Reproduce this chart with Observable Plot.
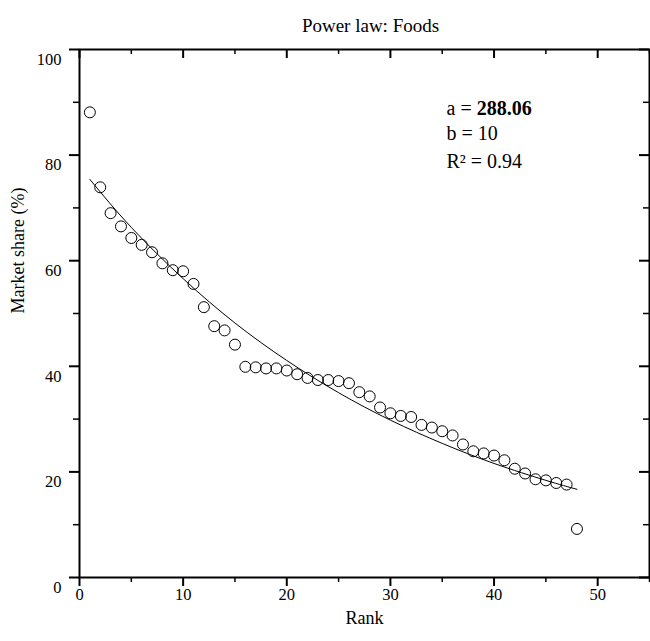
<!DOCTYPE html>
<html>
<head>
<meta charset="utf-8">
<script src="https://cdn.jsdelivr.net/npm/d3@7"></script>
<script src="https://cdn.jsdelivr.net/npm/@observablehq/plot@0.6"></script>
<style>
  html, body { margin: 0; padding: 0; background: #fff; }
  #chart svg { display: block; }
</style>
</head>
<body>
<div id="chart"></div>
<script>
// ---- data ----
const ranks = [1,2,3,4,5,6,7,8,9,10,11,12,13,14,15,16,17,18,19,20,21,22,23,24,
               25,26,27,28,29,30,31,32,33,34,35,36,37,38,39,40,41,42,43,44,45,46,47,48];
const shares = [88.1,73.9,69.0,66.5,64.3,63.0,61.6,59.5,58.2,58.0,55.6,51.2,47.6,46.8,44.1,39.9,
                39.8,39.6,39.6,39.2,38.5,37.8,37.4,37.4,37.2,36.8,35.1,34.3,32.2,31.1,30.6,30.4,
                28.9,28.4,27.7,26.9,25.2,23.9,23.5,23.1,22.2,20.6,19.7,18.6,18.4,17.9,17.6,9.2];

// fitted curve at a few ranks
const fitRanks  = [1, 5, 10, 15, 20, 25, 30, 35, 40, 45, 48];
const fitShares = [75.4, 66.3, 56.6, 48.2, 41.1, 35.0, 29.8, 25.4, 21.6, 18.4, 16.7];

// axis ticks
const xMajor = [0, 10, 20, 30, 40, 50];
const xMinor = [5, 15, 25, 35, 45, 55];
const yMajor = [0, 20, 40, 60, 80, 100];
const yMinor = [10, 30, 50, 70, 90];

// texts
const titleText = "Power law: Foods";
const xTitle = "Rank";
const yTitle = "Market share (%)";
const paramNames  = ["a", "b", "R²"];
const paramValues = ["288.06", "10", "0.94"];
const paramBold   = [true, false, false];

// ---- build tables ----
const points = ranks.map((r, i) => ({rank: r, share: shares[i]}));
const fit = fitRanks.map((r, i) => ({rank: r, share: fitShares[i]}));
const params = paramNames.map((n, i) => ({name: n, value: paramValues[i], bold: paramBold[i], label: `${n} = ${paramValues[i]}`}));

const FONT = "'Liberation Serif', 'Times New Roman', Times, serif";
const lineOffsets = [59, 84, 112];

const plot = Plot.plot({
  width: 650,
  height: 641,
  marginLeft: 79,
  marginRight: 1,
  marginTop: 49,
  marginBottom: 64,
  style: {fontFamily: FONT, background: "#fff", color: "#000", overflow: "visible"},
  x: {domain: [0, 55], axis: null},
  y: {domain: [0, 100], axis: null},
  marks: [
    // fitted curve
    Plot.line(fit, {x: "rank", y: "share", curve: "natural", stroke: "#000", strokeWidth: 1}),
    // observations
    Plot.dot(points, {x: "rank", y: "share", r: 5.5, stroke: "#000", strokeWidth: 1, fill: "none"}),

    // frame
    Plot.frame({stroke: "#000", strokeWidth: 2}),

    // bottom ticks (outward)
    Plot.ruleX(xMajor, {x: d => d, y1: 0, y2: 0, insetTop: 9, stroke: "#000", strokeWidth: 2}),
    Plot.ruleX(xMinor, {x: d => d, y1: 0, y2: 0, insetTop: 5, stroke: "#000", strokeWidth: 1.5}),
    // top ticks (inward)
    Plot.ruleX(xMajor, {x: d => d, y1: 100, y2: 100, insetBottom: -9, stroke: "#000", strokeWidth: 2}),
    Plot.ruleX(xMinor, {x: d => d, y1: 100, y2: 100, insetBottom: -5, stroke: "#000", strokeWidth: 1.5}),
    // left ticks (outward)
    Plot.ruleY(yMajor, {y: d => d, x1: 0, x2: 0, insetLeft: -10, stroke: "#000", strokeWidth: 2}),
    Plot.ruleY(yMinor, {y: d => d, x1: 0, x2: 0, insetLeft: -6, stroke: "#000", strokeWidth: 1.5}),
    // right ticks (inward)
    Plot.ruleY(yMajor, {y: d => d, x1: 55, x2: 55, insetLeft: -10, stroke: "#000", strokeWidth: 2}),
    Plot.ruleY(yMinor, {y: d => d, x1: 55, x2: 55, insetLeft: -6, stroke: "#000", strokeWidth: 1.5}),

    // tick labels
    Plot.text(xMajor, {x: d => d, frameAnchor: "bottom", dy: 22, text: d => String(d),
      fontSize: 16.5, fill: "#000"}),
    Plot.text(yMajor, {y: d => d, frameAnchor: "left", dx: -18, dy: 10, textAnchor: "end",
      text: d => String(d), fontSize: 16.5, fill: "#000"}),

    // axis titles
    Plot.text([xTitle], {frameAnchor: "bottom", dy: 46, text: d => d, fontSize: 18, fill: "#000"}),
    Plot.text([yTitle], {frameAnchor: "left", dx: -61, rotate: -90, text: d => d, fontSize: 18, fill: "#000"}),

    // chart title
    Plot.text([titleText], {frameAnchor: "top", dx: 6, dy: -31, text: d => d, fontSize: 19, fill: "#000"}),

    // fit parameters, one line each
    ...params.map((p, i) => Plot.text([p], {frameAnchor: "top-left", dx: 367, dy: lineOffsets[i],
      text: d => d.label, textAnchor: "start", lineAnchor: "middle", fontSize: 20, fill: "#000"}))
  ]
});

// bold the value of the first parameter
d3.select(plot).selectAll("text").each(function() {
  const p = params.find(q => q.label === this.textContent);
  if (!p || !p.bold) return;
  const sel = d3.select(this);
  sel.text(null);
  sel.append("tspan").text(`${p.name} = `);
  sel.append("tspan").attr("font-weight", "bold").text(p.value);
});

document.getElementById("chart").appendChild(plot);
</script>
</body>
</html>
